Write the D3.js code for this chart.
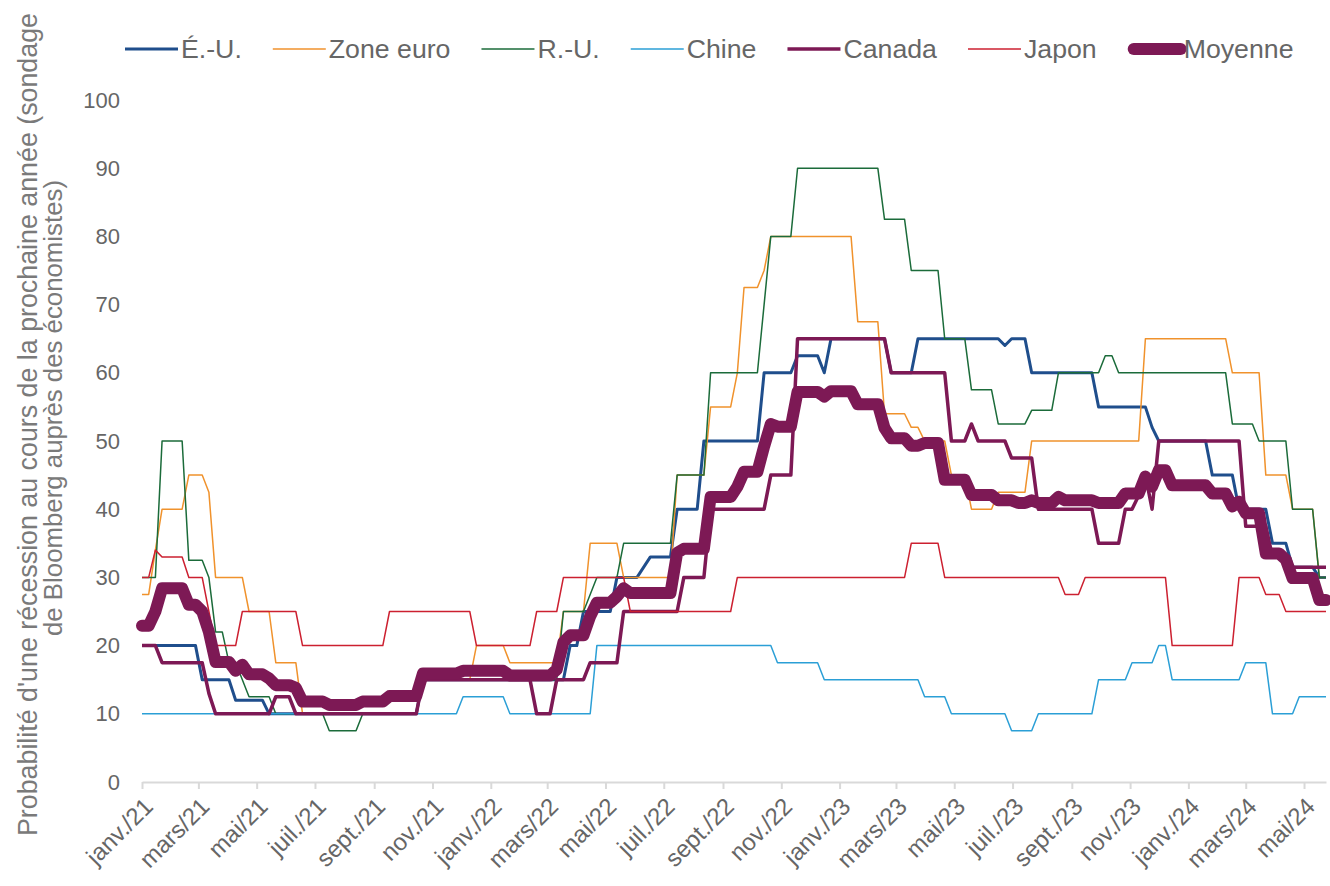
<!DOCTYPE html>
<html lang="fr">
<head>
<meta charset="utf-8">
<script src="https://cdn.jsdelivr.net/npm/d3@7"></script>
<style>
  body { margin: 0; background: #fff; }
  svg { display: block; font-family: "Liberation Sans", Arial, sans-serif; }
</style>
</head>
<body>
<svg id="chart" width="1330" height="886"></svg>
<script>
// Weekly survey readings, one per Friday starting 2021-01-01
const firstWeek = new Date(2021, 0, 1);
const weekCount = 178;

const tickLabels = ['janv./21', 'mars/21', 'mai/21', 'juil./21', 'sept./21', 'nov./21',
  'janv./22', 'mars/22', 'mai/22', 'juil./22', 'sept./22', 'nov./22',
  'janv./23', 'mars/23', 'mai/23', 'juil./23', 'sept./23', 'nov./23',
  'janv./24', 'mars/24', 'mai/24'];
const yTicks = [0, 10, 20, 30, 40, 50, 60, 70, 80, 90, 100];

// [week index, probability] : the value holds from that week until the next entry
const usa = [[0, 20], [9, 15], [14, 12], [19, 10], [42, 15], [64, 20], [66, 25], [71, 30], [75, 31.5],
  [76, 33], [80, 40], [84, 50], [93, 60], [98, 62.5], [102, 60], [103, 65], [112, 60], [116, 65],
  [129, 64], [130, 65], [133, 60], [143, 55], [151, 52], [152, 50], [160, 45], [164, 40], [169, 35],
  [172, 31.5], [176, 30]];
const euro = [[0, 27.5], [2, 34], [3, 40], [7, 45], [10, 42.5], [11, 30], [16, 25], [20, 17.5], [24, 10],
  [42, 15], [50, 20], [55, 17.5], [63, 25], [67, 35], [72, 30], [80, 45], [85, 55], [89, 60], [90, 72.5],
  [93, 75], [94, 80], [107, 67.5], [111, 54], [115, 52], [117, 50], [121, 45], [124, 40], [128, 42.5],
  [133, 50], [150, 65], [163, 60], [168, 45], [172, 40], [176, 30]];
const uk = [[0, 30], [3, 50], [7, 32.5], [10, 30], [11, 22], [13, 17.5], [15, 15], [16, 12.5], [20, 10],
  [28, 7.5], [33, 10], [42, 15], [63, 25], [67, 27.5], [68, 30], [72, 35], [80, 45], [85, 60], [93, 70],
  [94, 80], [98, 90], [111, 82.5], [115, 75], [120, 65], [124, 57.5], [128, 52.5], [133, 54.5], [137, 60],
  [144, 62.5], [146, 60], [163, 52.5], [167, 50], [172, 40], [176, 30]];
const china = [[0, 10], [48, 12.5], [55, 10], [68, 20], [95, 17.5], [102, 15], [117, 12.5], [121, 10],
  [130, 7.5], [134, 10], [143, 15], [148, 17.5], [152, 20], [154, 15], [165, 17.5], [169, 10], [173, 12.5]];
const canada = [[0, 20], [3, 17.5], [10, 13], [11, 10], [20, 12.5], [23, 10], [42, 15], [59, 10], [62, 15],
  [67, 17.5], [72, 25], [81, 30], [85, 40], [94, 45], [98, 65], [112, 60], [121, 50], [124, 52.5], [125, 50],
  [130, 47.5], [134, 40], [143, 35], [147, 40], [149, 42], [150, 45], [151, 40], [152, 50], [165, 37.5],
  [169, 33], [172, 31.5]];
const japan = [[0, 30], [2, 34], [3, 33], [7, 30], [10, 25], [11, 20], [15, 25], [24, 20], [37, 25], [50, 20],
  [59, 25], [63, 30], [73, 25], [89, 30], [115, 35], [120, 30], [138, 27.5], [141, 30], [154, 20], [164, 30],
  [168, 27.5], [171, 25]];
const average = [[0, 22.9], [2, 25], [3, 28.4], [7, 26], [9, 25], [10, 22], [11, 17.6], [14, 16.3], [15, 17.2],
  [16, 15.8], [19, 15.2], [20, 14.2], [23, 13.8], [24, 11.8], [28, 11.3], [33, 11.8], [37, 12.6], [42, 15.9],
  [48, 16.3], [55, 15.6], [62, 16.5], [63, 20.5], [64, 21.5], [67, 24.3], [68, 26.3], [71, 27.2], [72, 28.4],
  [73, 27.7], [80, 33.6], [81, 34.2], [85, 41.8], [89, 43.3], [90, 45.5], [93, 49.2], [94, 52.5], [95, 52.1],
  [98, 57.2], [102, 56.5], [103, 57.3], [107, 55.4], [111, 51.9], [112, 50.4], [115, 49.3], [117, 49.7],
  [120, 44.3], [124, 42.1], [128, 41.3], [131, 40.9], [133, 41.3], [134, 40.9], [137, 41.8], [138, 41.3],
  [143, 40.9], [147, 42.3], [150, 44.8], [151, 43.3], [152, 45.7], [154, 43.5], [160, 42.3], [163, 40.4],
  [164, 41.1], [165, 39.4], [168, 33.5], [171, 32.6], [172, 29.9], [176, 26.7]];

const seriesNames = ['É.-U.', 'Zone euro', 'R.-U.', 'Chine', 'Canada', 'Japon', 'Moyenne'];
const seriesSteps = [usa, euro, uk, china, canada, japan, average];

const colors = ['#1f4e8c', '#f0922c', '#1b6b3a', '#2b9fd6', '#7d1955', '#cc2030', '#7d1955'];
const widths = [3, 1.5, 1.5, 1.5, 3.5, 1.5, 12];

// hold each reading until the next one
function expand(steps) {
  const values = [];
  let j = 0;
  for (let i = 0; i < weekCount; i++) {
    while (j + 1 < steps.length && steps[j + 1][0] <= i) j++;
    values.push(steps[j][1]);
  }
  return values;
}

const weeks = d3.range(weekCount).map(i => d3.timeDay.offset(firstWeek, 7 * i));
const series = seriesNames.map((name, i) => ({
  name: name,
  color: colors[i],
  width: widths[i],
  values: expand(seriesSteps[i]).map((v, j) => ({ date: weeks[j], value: v }))
}));

const svg = d3.select('#chart');
const textColor = '#666';

const x = d3.scaleTime()
  .domain([weeks[0], weeks[weekCount - 1]])
  .range([142, 1326]);
const y = d3.scaleLinear()
  .domain([0, 100])
  .range([782, 100]);

// y axis labels (no line, no grid)
const yAxis = svg.append('g')
  .attr('transform', 'translate(142,0)')
  .call(d3.axisLeft(y).tickValues(yTicks).tickSize(0).tickPadding(22));
yAxis.select('.domain').remove();
yAxis.selectAll('text')
  .attr('fill', textColor)
  .style('font-size', '22px')
  .style('font-family', '"Liberation Sans", Arial, sans-serif');

// x axis
const tickDates = d3.timeMonth.every(2).range(new Date(2021, 0, 1), new Date(2024, 5, 1));
const xAxis = svg.append('g')
  .attr('transform', 'translate(0,' + y(0) + ')')
  .call(d3.axisBottom(x)
    .tickValues(tickDates)
    .tickFormat((d, i) => tickLabels[i])
    .tickSize(7)
    .tickSizeOuter(0));
xAxis.select('.domain')
  .attr('stroke', '#d9d9d9')
  .attr('stroke-width', 2);
xAxis.selectAll('.tick line')
  .attr('stroke', '#d9d9d9')
  .attr('stroke-width', 2);
xAxis.selectAll('text')
  .attr('fill', textColor)
  .attr('x', 0)
  .attr('y', 0)
  .attr('dy', '0.35em')
  .attr('text-anchor', 'end')
  .attr('transform', 'translate(6,20) rotate(-45)')
  .style('font-size', '24px')
  .style('font-family', '"Liberation Sans", Arial, sans-serif');

// lines
const line = d3.line()
  .x(d => x(d.date))
  .y(d => y(d.value));

svg.append('g')
  .selectAll('path')
  .data(series)
  .join('path')
  .attr('d', d => line(d.values))
  .attr('fill', 'none')
  .attr('stroke', d => d.color)
  .attr('stroke-width', d => d.width)
  .attr('stroke-linejoin', 'round')
  .attr('stroke-linecap', d => d.width > 5 ? 'round' : 'butt');

// y title, two lines
const title = svg.append('g').attr('fill', '#7a7a7a');
title.append('text')
  .attr('transform', 'translate(37,836) rotate(-90)')
  .style('font-size', '26.8px')
  .text('Probabilité d\'une récession au cours de la prochaine année (sondage');
title.append('text')
  .attr('transform', 'translate(62,636) rotate(-90)')
  .style('font-size', '25.8px')
  .text('de Bloomberg auprès des économistes)');

// legend
const legend = svg.append('g').attr('transform', 'translate(0,49)');
let lx = 125;
series.forEach(s => {
  legend.append('line')
    .attr('x1', s.width > 5 ? lx + 6 : lx)
    .attr('x2', lx + 53)
    .attr('stroke', s.color)
    .attr('stroke-width', s.width)
    .attr('stroke-linecap', s.width > 5 ? 'round' : 'butt');
  const t = legend.append('text')
    .attr('x', lx + 56)
    .attr('dy', '0.35em')
    .attr('fill', textColor)
    .style('font-size', '26.7px')
    .text(s.name);
  lx += 56 + t.node().getComputedTextLength() + 31;
});
</script>
</body>
</html>
